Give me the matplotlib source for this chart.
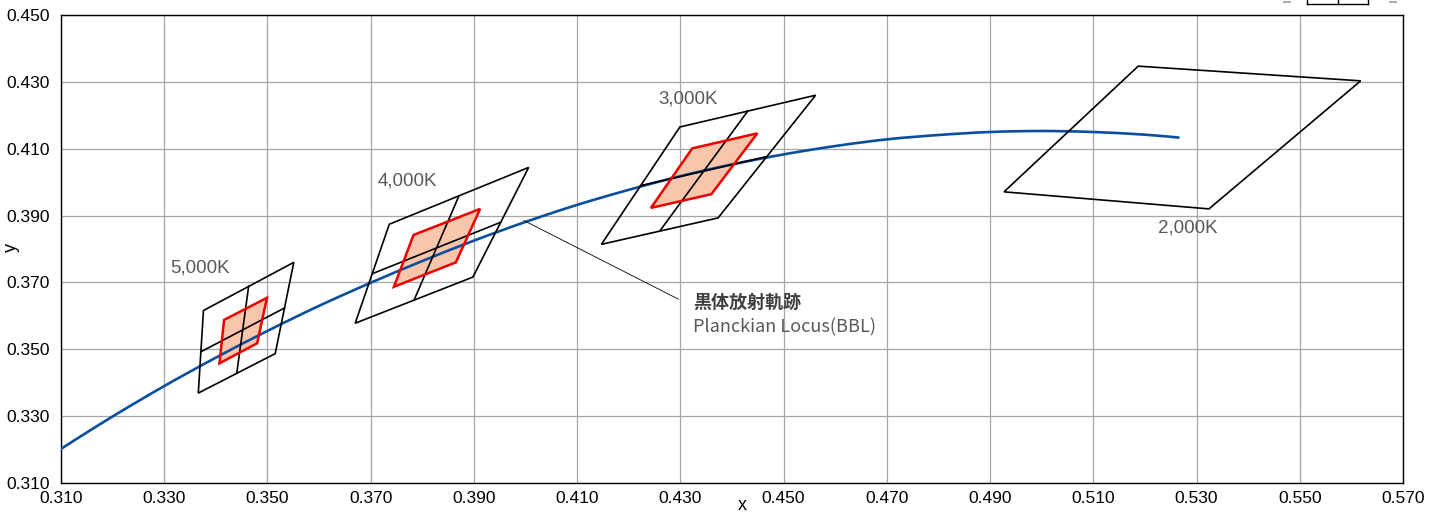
import matplotlib
matplotlib.use("Agg")
import matplotlib.pyplot as plt
from matplotlib.patches import Polygon, PathPatch
from matplotlib.path import Path
from matplotlib.lines import Line2D

# Planckian locus (CIE 1931 x, y)
locus_x = [0.300, 0.310, 0.320, 0.330, 0.340, 0.350, 0.360, 0.370, 0.380,
           0.390, 0.400, 0.410, 0.420, 0.430, 0.440, 0.450, 0.460, 0.470,
           0.480, 0.490, 0.500, 0.510, 0.520, 0.5267]
locus_y = [0.3099, 0.3202, 0.3299, 0.3390, 0.3475, 0.3555, 0.3630, 0.3699, 0.3764,
           0.3825, 0.3881, 0.3932, 0.3977, 0.4018, 0.4053, 0.4083, 0.4108, 0.4128,
           0.4141, 0.4150, 0.4153, 0.4150, 0.4142, 0.4133]

# Chromaticity quadrangles per nominal CCT (corners: TL, TR, BR, BL)
cct_labels = ["5,000K", "4,000K", "3,000K", "2,000K"]
quad_x = [
    [0.3376, 0.3551, 0.3515, 0.3366],
    [0.3736, 0.4006, 0.3898, 0.3670],
    [0.4299, 0.4562, 0.4373, 0.4147],
    [0.5187, 0.5618, 0.5324, 0.4927],
]
quad_y = [
    [0.3616, 0.3760, 0.3487, 0.3369],
    [0.3874, 0.4044, 0.3716, 0.3578],
    [0.4165, 0.4260, 0.3893, 0.3814],
    [0.4347, 0.4303, 0.3920, 0.3971],
]
quad_divided = [True, True, True, False]

# Tighter tolerance regions (corners: TL, TR, BR, BL)
inner_x = [
    [0.3416, 0.3499, 0.3480, 0.3407],
    [0.3783, 0.3912, 0.3865, 0.3745],
    [0.4323, 0.4449, 0.4360, 0.4243],
]
inner_y = [
    [0.3588, 0.3654, 0.3518, 0.3458],
    [0.3842, 0.3920, 0.3760, 0.3687],
    [0.4101, 0.4146, 0.3964, 0.3923],
]

x_ticks = [0.310, 0.330, 0.350, 0.370, 0.390, 0.410, 0.430, 0.450,
           0.470, 0.490, 0.510, 0.530, 0.550, 0.570]
y_ticks = [0.310, 0.330, 0.350, 0.370, 0.390, 0.410, 0.430, 0.450]

locus_name_ja = "黒体放射軌跡"
locus_name_en = "Planckian Locus(BBL)"

# label anchors (data coords)
label_pos = [(0.3369, 0.3743), (0.3772, 0.4003), (0.4315, 0.4249), (0.5283, 0.3863)]
callout_start = (0.3997, 0.3885)
callout_end = (0.4296, 0.3650)
callout_text_x = 0.4324


def smooth_path(xs, ys):
    """Catmull-Rom curve through the points, expressed as cubic Bezier segments."""
    pts = list(zip(xs, ys))
    verts = [pts[0]]
    codes = [Path.MOVETO]
    n = len(pts)
    for i in range(n - 1):
        p0 = pts[i - 1] if i > 0 else pts[i]
        p1 = pts[i]
        p2 = pts[i + 1]
        p3 = pts[i + 2] if i + 2 < n else pts[i + 1]
        c1 = (p1[0] + (p2[0] - p0[0]) / 6, p1[1] + (p2[1] - p0[1]) / 6)
        c2 = (p2[0] - (p3[0] - p1[0]) / 6, p2[1] - (p3[1] - p1[1]) / 6)
        verts += [c1, c2, p2]
        codes += [Path.CURVE4] * 3
    return Path(verts, codes)


plt.rcParams["font.family"] = ["Liberation Sans", "DejaVu Sans"]

fig = plt.figure(figsize=(14.35, 5.15), dpi=100)
ax = fig.add_axes([61 / 1435, 1 - 483 / 515, (1403 - 61) / 1435, (483 - 15) / 515])
ax.set_xlim(x_ticks[0], x_ticks[-1])
ax.set_ylim(y_ticks[0], y_ticks[-1])
ax.set_xticks(x_ticks)
ax.set_yticks(y_ticks)
ax.set_xticklabels([f"{v:.3f}" for v in x_ticks])
ax.set_yticklabels([f"{v:.3f}" for v in y_ticks])
ax.tick_params(length=0, labelsize=12.5, colors="black")
ax.tick_params(axis="x", pad=6)
ax.tick_params(axis="y", pad=8)
ax.grid(True, color="#a6a6a6", linewidth=0.9)
ax.set_axisbelow(True)
for s in ax.spines.values():
    s.set_color("black")
    s.set_linewidth(1.0)

ax.set_xlabel("x", fontsize=13)
ax.set_ylabel("y", fontsize=13)
ax.xaxis.set_label_coords((742 - 61) / 1342, -(497 - 483) / 468)
ax.yaxis.set_label_coords(-(61 - 20) / 1342, (483 - 248) / 468)

# tolerance fills underneath
for xs, ys in zip(inner_x, inner_y):
    ax.add_patch(Polygon(list(zip(xs, ys)), closed=True, facecolor="#f9c6ac",
                         edgecolor="none", zorder=2))

# locus
ax.add_patch(PathPatch(smooth_path(locus_x, locus_y), facecolor="none",
                       edgecolor="#0a4f9e", linewidth=1.9, zorder=3,
                       capstyle="butt"))

# quadrangles with center dividers
for xs, ys, div in zip(quad_x, quad_y, quad_divided):
    ax.add_patch(Polygon(list(zip(xs, ys)), closed=True, facecolor="none",
                         edgecolor="black", linewidth=1.2, zorder=4))
    if div:
        mid = [((xs[i] + xs[(i + 1) % 4]) / 2, (ys[i] + ys[(i + 1) % 4]) / 2)
               for i in range(4)]
        ax.plot([mid[0][0], mid[2][0]], [mid[0][1], mid[2][1]],
                color="black", linewidth=1.2, zorder=4)
        ax.plot([mid[1][0], mid[3][0]], [mid[1][1], mid[3][1]],
                color="black", linewidth=1.2, zorder=4)

# tolerance outlines
for xs, ys in zip(inner_x, inner_y):
    ax.add_patch(Polygon(list(zip(xs, ys)), closed=True, facecolor="none",
                         edgecolor="#ee0000", linewidth=1.8, zorder=5))

for lab, (lx, ly) in zip(cct_labels, label_pos):
    ax.text(lx, ly, lab, fontsize=13.5, color="#595959", ha="center",
            va="center", zorder=6)

# callout for the locus
ax.plot([callout_start[0], callout_end[0]], [callout_start[1], callout_end[1]],
        color="black", linewidth=0.6, zorder=6)
ax.text(callout_text_x, 0.3639, locus_name_ja, fontsize=13, color="#404040",
        ha="left", va="center", fontweight="bold",
        family=["Noto Sans CJK JP", "DejaVu Sans"], zorder=6)
ax.text(callout_text_x, 0.3567, locus_name_en, fontsize=13, color="#595959",
        ha="left", va="center", family=["Noto Sans CJK JP", "DejaVu Sans"],
        zorder=6)

# small legend remnant at the top edge of the figure
ft = fig.transFigure
yb = 1 - 4 / 515
for (x0, y0, x1, y1) in [(1307, yb, 1368, yb), (1307, yb, 1307, 1.0),
                         (1368, yb, 1368, 1.0), (1338, yb, 1338, 1.0)]:
    fig.add_artist(Line2D([x0 / 1435, x1 / 1435], [y0, y1], transform=ft,
                          color="black", linewidth=1.0))
for xa in (1284, 1390):
    fig.add_artist(Line2D([xa / 1435, (xa + 6) / 1435], [1 - 1.5 / 515, 1 - 1.5 / 515],
                          transform=ft, color="#999999", linewidth=1.2))

fig.savefig("out.png", dpi=100)
